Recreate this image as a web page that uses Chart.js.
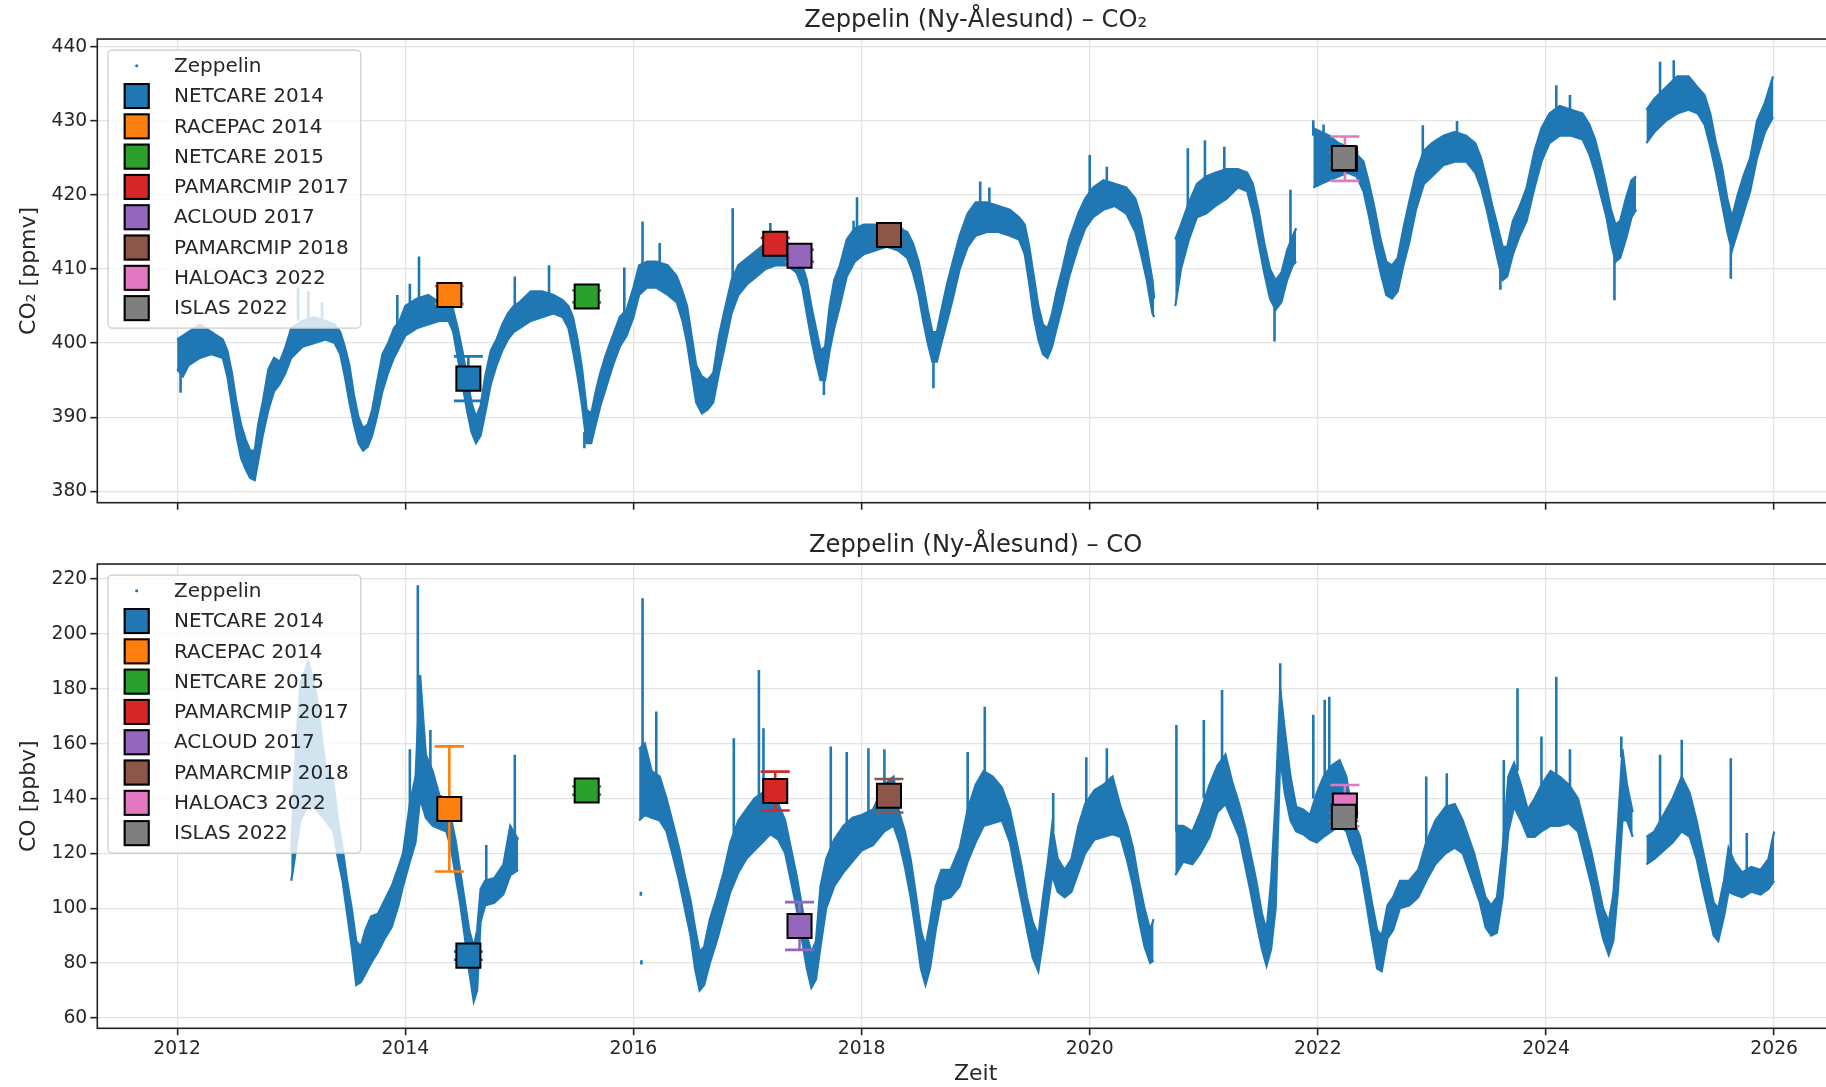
<!DOCTYPE html>
<html>
<head>
<meta charset="utf-8">
<script src="https://cdn.jsdelivr.net/npm/chart.js@4.4.1/dist/chart.umd.min.js"></script>
<style>
  html, body { margin: 0; padding: 0; background: #fff; overflow: hidden; width: 1826px; height: 1087px; }
  #page { position: absolute; left: 0; top: 0; width: 1826px; height: 1087px; overflow: hidden; }
  .box { position: absolute; left: 0; width: 1854px; }
  #co2Box { top: 0; height: 530px; }
  #coBox { top: 525px; height: 562px; }
</style>
</head>
<body>
<div id="page">
<div class="box" id="co2Box"><canvas id="co2Chart" width="1854" height="530"></canvas></div>
<div class="box" id="coBox"><canvas id="coChart" width="1854" height="562"></canvas></div>
</div>
<script>
// ---- data ----
const xTicks = [2012, 2014, 2016, 2018, 2020, 2022, 2024, 2026];
const co2Ticks = [380, 390, 400, 410, 420, 430, 440];
const coTicks = [60, 80, 100, 120, 140, 160, 180, 200, 220];

// Zeppelin CO2 band (lower / upper edge of the point cloud), null = data gap
const co2Time = [
  2012.00, 2012.05, 2012.10, 2012.20, 2012.30, 2012.40, 2012.44, 2012.48, 2012.52, 2012.56, 2012.60, 2012.64, 2012.68, 2012.71, 2012.75, 2012.80, 2012.85, 2012.90, 2012.95,
  2013.00, 2013.10, 2013.20, 2013.30, 2013.38, 2013.43, 2013.47, 2013.51, 2013.55, 2013.59, 2013.63, 2013.67, 2013.71, 2013.75, 2013.80, 2013.85, 2013.90, 2013.95,
  2014.00, 2014.10, 2014.20, 2014.30, 2014.38, 2014.42, 2014.46, 2014.50, 2014.54, 2014.58, 2014.62, 2014.66, 2014.70, 2014.75, 2014.80, 2014.85, 2014.90, 2014.95,
  2015.00, 2015.10, 2015.20, 2015.30, 2015.38, 2015.43, 2015.47, 2015.51, 2015.55, 2015.59, 2015.63, 2015.67, 2015.71, 2015.76, 2015.82, 2015.88, 2015.94,
  2016.00, 2016.05, 2016.12, 2016.20, 2016.30, 2016.38, 2016.43, 2016.47, 2016.51, 2016.55, 2016.60, 2016.65, 2016.70, 2016.75, 2016.80, 2016.86, 2016.92,
  2017.00, 2017.08, 2017.16, 2017.25, 2017.35, 2017.43, 2017.48, 2017.52, 2017.56, 2017.60, 2017.64, 2017.68, 2017.72, 2017.76, 2017.81, 2017.87, 2017.94,
  2018.02, 2018.12, 2018.22, 2018.32, 2018.40, 2018.45, 2018.50, 2018.54, 2018.58, 2018.62, 2018.66, 2018.70, 2018.75, 2018.80, 2018.86, 2018.93,
  2019.00, 2019.10, 2019.20, 2019.30, 2019.38, 2019.43, 2019.47, 2019.51, 2019.55, 2019.59, 2019.63, 2019.67, 2019.71, 2019.76, 2019.82, 2019.90, 2019.96,
  2020.03, 2020.12, 2020.22, 2020.32, 2020.40, 2020.45, 2020.50, 2020.55, 2020.565, 2020.65, 2020.75, 2020.80, 2020.87, 2020.94,
  2021.02, 2021.10, 2021.20, 2021.30, 2021.38, 2021.43, 2021.48, 2021.53, 2021.58, 2021.63, 2021.68, 2021.73, 2021.78, 2021.81, 2021.88,
  2021.96, 2022.03, 2022.10, 2022.18, 2022.26, 2022.34, 2022.40, 2022.45, 2022.50, 2022.55, 2022.60, 2022.65, 2022.70, 2022.75, 2022.80, 2022.86, 2022.93,
  2023.00, 2023.10, 2023.20, 2023.30, 2023.38, 2023.43, 2023.48, 2023.53, 2023.58, 2023.62, 2023.66, 2023.71, 2023.77, 2023.83, 2023.90, 2023.96,
  2024.03, 2024.12, 2024.22, 2024.32, 2024.38, 2024.43, 2024.48, 2024.53, 2024.57, 2024.61, 2024.65, 2024.70, 2024.75, 2024.79, 2024.84,
  2024.88, 2024.95, 2025.05, 2025.15, 2025.25, 2025.33, 2025.39, 2025.44, 2025.49, 2025.54, 2025.59, 2025.63, 2025.68, 2025.73, 2025.79, 2025.85, 2025.92, 2025.99
];
const co2Low = [
  396.5, 395.5, 397.0, 398.0, 398.5, 398.0, 395.5, 391.5, 387.5, 384.5, 383.0, 381.8, 381.5, 384.0, 387.5, 391.0, 393.5, 394.5, 396.0,
  398.0, 399.5, 400.0, 400.5, 400.0, 398.5, 395.5, 392.0, 389.0, 386.5, 385.5, 386.0, 387.5, 390.0, 393.5, 396.0, 398.0, 399.5,
  401.0, 402.0, 402.5, 403.0, 403.0, 401.5, 398.0, 394.5, 391.0, 388.0, 386.5, 387.5, 390.5, 394.5, 397.0, 399.0, 400.5, 401.5,
  402.0, 403.0, 403.5, 404.0, 403.5, 402.0, 399.0, 395.5, 391.5, 386.5, 386.5, 389.0, 391.5, 394.0, 397.0, 399.5, 401.0,
  403.5, 406.5, 407.5, 407.5, 406.5, 405.5, 403.0, 400.0, 396.0, 392.0, 390.5, 391.0, 392.0, 396.0, 399.5, 404.0, 406.5,
  408.0, 409.0, 410.0, 410.5, 410.5, 409.5, 407.5, 404.0, 400.5, 397.5, 395.0, 395.0, 399.0, 402.0, 405.0, 409.0, 411.0,
  412.0, 412.5, 413.0, 412.5, 411.5, 409.5, 406.5, 403.0, 400.0, 397.5, 397.5, 400.0, 403.0, 406.0, 410.0, 413.0,
  414.5, 415.0, 415.0, 414.5, 414.0, 412.0, 408.0, 403.5, 400.5, 398.5, 398.0, 399.5, 402.0, 405.0, 409.0, 413.0, 415.5,
  417.0, 418.0, 418.5, 417.5, 415.0, 412.0, 408.5, 404.0, 403.5, null, 405.0, 410.0, 414.0, 417.0,
  417.5, 418.5, 419.5, 421.0, 420.5, 417.5, 413.5, 409.5, 406.0, 404.5, 405.5, 408.5, 410.5, 411.0, null,
  421.0, 421.5, 422.0, 422.5, 423.0, 422.5, 420.5, 417.0, 413.0, 409.5, 406.5, 406.0, 407.0, 410.5, 413.5, 418.0, 421.5,
  422.5, 424.0, 424.5, 424.5, 423.0, 421.0, 418.0, 414.5, 411.0, 408.5, 409.0, 412.0, 414.5, 416.5, 421.0, 424.5,
  427.0, 428.0, 428.0, 427.5, 425.5, 423.0, 420.0, 417.0, 413.5, 411.0, 411.5, 414.0, 417.0, 418.0, null,
  427.0, 428.5, 430.0, 431.0, 431.5, 431.0, 429.5, 426.5, 423.0, 419.0, 415.0, 412.5, 415.0, 417.5, 420.5, 425.0, 428.5, 430.5
];
const co2High = [
  400.5, 401.0, 401.5, 402.5, 401.5, 400.5, 399.0, 396.0, 392.0, 389.0, 387.0, 385.5, 385.5, 389.0, 392.0, 396.5, 398.0, 397.5, 399.5,
  402.0, 403.0, 403.5, 403.0, 402.5, 401.5, 399.5, 397.0, 393.0, 390.0, 388.5, 389.0, 391.0, 394.5, 398.5, 400.0, 402.0, 403.0,
  405.0, 406.0, 406.5, 405.5, 406.0, 404.5, 402.0, 399.0, 395.5, 392.0, 390.0, 391.5, 395.5, 399.0, 400.5, 402.5, 404.0, 405.0,
  405.5, 407.0, 407.0, 406.5, 405.8, 405.0, 403.5, 400.5, 396.5, 391.0, 390.5, 393.5, 396.0, 398.5, 401.0, 403.5, 404.5,
  407.5, 410.5, 411.0, 411.0, 410.5, 409.0, 407.0, 405.0, 401.0, 397.0, 395.5, 395.0, 396.0, 401.0, 404.5, 408.5, 410.5,
  411.5, 412.5, 413.5, 414.0, 413.5, 412.5, 410.5, 408.5, 405.0, 402.0, 399.0, 399.5, 405.0, 408.5, 410.5, 414.0, 415.5,
  416.0, 416.0, 416.0, 415.5, 415.0, 413.5, 411.0, 408.0, 404.5, 401.5, 401.5, 404.5, 408.0, 411.0, 414.5, 417.5,
  419.0, 419.0, 418.5, 418.0, 417.0, 416.0, 413.0, 409.0, 405.0, 402.5, 402.0, 404.0, 407.0, 410.0, 414.0, 417.5, 419.5,
  421.0, 422.0, 421.5, 421.0, 419.5, 417.0, 413.0, 408.5, 406.0, null, 414.0, 416.0, 419.0, 421.5,
  422.5, 423.0, 423.5, 423.5, 423.0, 421.5, 418.0, 413.5, 410.0, 408.5, 409.5, 412.5, 414.5, 415.5, null,
  429.0, 428.5, 428.0, 427.0, 426.5, 425.5, 424.5, 421.5, 418.0, 414.0, 411.0, 410.5, 411.5, 415.5, 419.0, 423.0, 426.0,
  427.0, 428.0, 428.5, 428.0, 427.0, 425.0, 422.0, 418.5, 415.5, 413.0, 413.0, 416.5, 418.5, 421.0, 426.0, 429.0,
  431.0, 432.0, 431.5, 431.0, 429.5, 427.5, 424.5, 421.0, 418.0, 416.0, 416.5, 419.5, 422.0, 422.5, null,
  431.5, 433.0, 434.5, 436.0, 436.0, 434.5, 433.5, 431.0, 427.0, 424.0, 419.5, 417.0, 420.0, 422.5, 425.0, 430.0, 432.5, 436.0
];
// single spikes sticking out of the CO2 band
const co2SpikeTime = [2012.03, 2013.06, 2013.15, 2013.27, 2013.93, 2014.04, 2014.12, 2014.96, 2015.26, 2015.57, 2015.92, 2016.08, 2016.23, 2016.87, 2017.20, 2017.67, 2017.93, 2017.96, 2018.63, 2019.04, 2019.12, 2020.00, 2020.15, 2020.86, 2021.01, 2021.18, 2021.62, 2021.76, 2021.96, 2022.05, 2022.92, 2023.22, 2023.60, 2024.09, 2024.21, 2024.60, 2025.00, 2025.12, 2025.62];
const co2SpikeFrom = [396.0, 403.0, 403.0, 403.0, 401.0, 404.0, 405.0, 404.0, 406.0, 388.0, 403.0, 410.0, 410.0, 407.0, 413.0, 396.0, 413.0, 413.0, 398.0, 418.0, 418.0, 419.0, 421.0, 418.0, 421.0, 422.0, 405.0, 412.0, 428.0, 428.0, 424.0, 427.0, 410.0, 431.0, 431.0, 412.0, 433.0, 435.0, 413.0];
const co2SpikeTo = [393.3, 407.5, 407.0, 405.5, 406.5, 408.0, 411.7, 409.0, 410.5, 385.8, 410.2, 416.4, 413.5, 418.2, 416.2, 393.0, 416.5, 419.7, 393.9, 421.8, 421.0, 425.4, 423.8, 426.3, 427.4, 426.5, 400.2, 420.7, 430.1, 429.5, 429.4, 430.0, 407.2, 434.8, 433.5, 405.8, 438.0, 438.2, 408.7];

// Zeppelin CO band
const coTime = [
  2013.00, 2013.03, 2013.08, 2013.15, 2013.22, 2013.30, 2013.37, 2013.41, 2013.45, 2013.49, 2013.53, 2013.57, 2013.61, 2013.65, 2013.70, 2013.76, 2013.82, 2013.88, 2013.94, 2013.98,
  2014.04, 2014.09, 2014.13, 2014.18, 2014.24, 2014.30, 2014.36, 2014.40, 2014.44, 2014.48, 2014.52, 2014.56, 2014.60, 2014.63, 2014.66, 2014.70, 2014.78, 2014.86, 2014.92, 2014.99, 2015.50,
  2016.05, 2016.10, 2016.16, 2016.23, 2016.29, 2016.34, 2016.40, 2016.45, 2016.50, 2016.54, 2016.58, 2016.62, 2016.67, 2016.73, 2016.79, 2016.85, 2016.92, 2016.99,
  2017.06, 2017.13, 2017.20, 2017.27, 2017.33, 2017.38, 2017.43, 2017.48, 2017.52, 2017.56, 2017.60, 2017.64, 2017.69, 2017.76, 2017.84, 2017.92,
  2018.00, 2018.10, 2018.20, 2018.28, 2018.33, 2018.38, 2018.43, 2018.48, 2018.52, 2018.56, 2018.60, 2018.65, 2018.70, 2018.78, 2018.86, 2018.93,
  2019.00, 2019.07, 2019.15, 2019.23, 2019.30, 2019.35, 2019.40, 2019.45, 2019.50, 2019.55, 2019.59, 2019.63, 2019.67, 2019.72, 2019.78, 2019.84, 2019.90, 2019.96,
  2020.04, 2020.12, 2020.20, 2020.27, 2020.33, 2020.38, 2020.43, 2020.48, 2020.53, 2020.56, 2020.65, 2020.75, 2020.82, 2020.90, 2020.97,
  2021.05, 2021.12, 2021.19, 2021.25, 2021.31, 2021.36, 2021.41, 2021.46, 2021.51, 2021.55, 2021.59, 2021.63, 2021.67, 2021.71, 2021.76, 2021.81, 2021.87, 2021.93, 2021.99,
  2022.05, 2022.12, 2022.19, 2022.25, 2022.31, 2022.37, 2022.42, 2022.47, 2022.52, 2022.56, 2022.61, 2022.66, 2022.72, 2022.80, 2022.88, 2022.95,
  2023.03, 2023.12, 2023.20, 2023.27, 2023.32, 2023.37, 2023.42, 2023.47, 2023.52, 2023.57, 2023.62, 2023.67, 2023.72, 2023.78, 2023.84, 2023.90, 2023.96,
  2024.04, 2024.12, 2024.20, 2024.28, 2024.34, 2024.40, 2024.45, 2024.50, 2024.55, 2024.59, 2024.63, 2024.67, 2024.71, 2024.76, 2024.83,
  2024.88, 2024.95, 2025.03, 2025.11, 2025.19, 2025.26, 2025.32, 2025.37, 2025.42, 2025.47, 2025.51, 2025.56, 2025.60, 2025.65, 2025.72, 2025.80, 2025.88, 2025.95, 2026.00
];
const coLow = [
  110, 118, 132, 138, 136, 132, 128, 118, 110, 98, 86, 72, 73, 76, 80, 84, 89, 93, 101, 108,
  117, 124, 140, 133, 130, 129, 128, 122, 112, 102, 90, 77, 66, 70, 95, 101, 102, 105, 112, 114, null,
  132, 134, 133, 132, 128, 120, 110, 100, 90, 78, 70, 72, 80, 88, 97, 106, 113, 118,
  121, 124, 127, 125, 120, 110, 100, 88, 78, 71, 74, 86, 100, 108, 113, 117,
  121, 123, 128, 130, 124, 115, 104, 90, 78, 72, 78, 92, 103, 104, 108, 117,
  124, 130, 131, 132, 124, 113, 103, 92, 82, 77, 88, 100, 112, 106, 104, 106, 113, 120,
  125, 126, 127, 126, 117, 108, 96, 86, 80, 81, null, 112, 117, 116, 120,
  126, 135, 138, 132, 126, 116, 106, 95, 85, 79, 85, 100, 155, 142, 132, 128, 127, 125, 124,
  126, 128, 130, 128, 120, 115, 103, 90, 78, 77, 89, 92, 100, 101, 104, 110,
  116, 120, 122, 120, 114, 108, 102, 93, 90, 91, 104, 128, 137, 132, 126, 126, 128,
  130, 130, 131, 128, 118, 108, 98, 89, 83, 88, 106, 132, 132, 126, null,
  116, 118, 121, 124, 128, 126, 118, 108, 99, 90, 88, 97, 106, 105, 104, 106, 105, 107, 110
];
const coHigh = [
  121, 150, 182, 190, 178, 152, 146, 132, 122, 110, 100, 88, 86, 92, 97, 98, 103, 108, 115, 120,
  138, 148, 185, 156, 150, 141, 140, 133, 125, 114, 103, 92, 86, 92, 107, 110, 111, 116, 130, 125, null,
  158, 160, 150, 148, 140, 132, 122, 112, 103, 93, 84, 86, 96, 104, 113, 124, 132, 136,
  140, 142, 145, 138, 132, 122, 112, 100, 90, 84, 88, 108, 118, 125, 130, 133,
  134, 136, 145, 148, 135, 128, 118, 104, 92, 86, 95, 108, 114, 114, 122, 136,
  145, 150, 148, 144, 136, 126, 116, 104, 95, 90, 104, 116, 130, 118, 114, 118, 130, 138,
  143, 145, 148, 137, 130, 122, 110, 100, 92, 96, null, 130, 130, 128, 135,
  145, 152, 156, 146, 138, 130, 120, 110, 98, 92, 110, 140, 180, 165, 148, 137, 136, 134, 142,
  148, 152, 154, 148, 132, 126, 115, 103, 92, 90, 101, 104, 110, 110, 114, 124,
  132, 137, 138, 132, 126, 120, 112, 104, 101, 104, 122, 148, 153, 145, 136, 140, 145,
  150, 148, 145, 140, 130, 120, 110, 100, 95, 105, 130, 158, 145, 135, null,
  126, 128, 134, 140, 148, 142, 132, 122, 112, 102, 100, 110, 122, 117, 113, 115, 114, 118, 128
];
const coSpikeTime = [2014.11, 2014.04, 2014.22, 2014.71, 2014.96, 2016.07, 2016.065, 2016.08, 2016.20, 2016.88, 2017.10, 2017.14, 2017.73, 2017.87, 2018.06, 2018.20, 2018.93, 2019.08, 2019.68, 2019.97, 2020.15, 2020.76, 2021.00, 2021.16, 2021.67, 2021.96, 2022.06, 2022.10, 2022.95, 2023.13, 2023.63, 2023.75, 2023.96, 2024.09, 2024.21, 2024.66, 2025.00, 2025.19, 2025.62, 2025.76];
const coSpikeFrom = [150, 130, 145, 108, 122, 79.5, 104.5, 150, 145, 120, 138, 140, 118, 128, 132, 140, 135, 148, 128, 135, 145, 128, 140, 152, 178, 140, 146, 150, 122, 135, 118, 150, 142, 148, 143, 155, 130, 146, 120, 112];
const coSpikeTo = [217.8, 158, 165, 123, 156, 81, 106, 213, 171.7, 162, 186.9, 165.6, 159, 157, 158.3, 158, 157, 173.5, 142, 155, 158.3, 166.8, 168.6, 179.6, 189.3, 170.5, 176, 177.1, 148, 149.2, 154, 180.2, 162.6, 184.4, 158, 162.6, 156, 161.4, 154.7, 127.4];

// aircraft campaigns (mean and error bar half width)
const campaignNames = ['NETCARE 2014', 'RACEPAC 2014', 'NETCARE 2015', 'PAMARCMIP 2017', 'ACLOUD 2017', 'PAMARCMIP 2018', 'HALOAC3 2022', 'ISLAS 2022'];
const campaignTime = [2014.553, 2014.386, 2015.59, 2017.243, 2017.456, 2018.24, 2022.237, 2022.228];
const campaignCo2 = [395.2, 406.5, 406.3, 413.4, 411.8, 414.6, 424.9, 425.0];
const campaignCo2Err = [3.0, 1.2, 0.8, 0.8, 0.8, 0.8, 3.0, 0.8];
const campaignCo = [82.7, 136.2, 142.9, 142.7, 93.5, 141.0, 137.4, 133.3];
const campaignCoErr = [1.5, 22.8, 1.5, 7.1, 8.7, 6.1, 7.5, 1.5];
const campaignColors = ['#1f77b4', '#ff7f0e', '#2ca02c', '#d62728', '#9467bd', '#8c564b', '#e377c2', '#7f7f7f'];

// ---- drawing ----
const BLUE = '#1f77b4';
const TEXT = '#262626';
const GRID = '#e3e3e3';
const FONT = "'DejaVu Sans', sans-serif";
const FS_TICK = 18.75;
const FS_LABEL = 22;
const FS_LEGEND = 20;
const FS_TITLE = 24.2;

Chart.defaults.font.family = FONT;
Chart.defaults.color = TEXT;

function pts(t, v) {
    return t.map((x, i) => ({ x: x, y: v[i] }));
}

function spikePts(t, from, to) {
    let out = [];
    t.forEach((x, i) => {
        out.push({ x: x, y: from[i] }, { x: x, y: to[i] }, { x: x, y: null });
    });
    return out;
}

function makeDatasets(s) {
    let ds = [
        { data: pts(s.t, s.lo), borderColor: BLUE, borderWidth: 2.2, pointRadius: 0, fill: false, order: 30 },
        { data: pts(s.t, s.hi), borderColor: BLUE, borderWidth: 2.2, pointRadius: 0, fill: '-1', backgroundColor: BLUE, order: 30 },
        { data: spikePts(s.spikeT, s.spikeFrom, s.spikeTo), borderColor: BLUE, borderWidth: 2.6, pointRadius: 0, fill: false, order: 30 }
    ];
    // error bars: vertical line with horizontal caps
    campaignNames.forEach((name, i) => {
        let x = campaignTime[i], y = s.camp[i], e = s.err[i];
        ds.push({
            data: [{ x: x, y: y - e }, { x: x, y: y + e }],
            borderColor: campaignColors[i], borderWidth: 2.6, fill: false,
            pointStyle: 'line', pointRadius: 14.5, pointBorderColor: campaignColors[i], pointBorderWidth: 2.6,
            order: 20
        });
    });
    // markers, later campaigns on top
    campaignNames.forEach((name, i) => {
        ds.push({
            label: name,
            data: [{ x: campaignTime[i], y: s.camp[i] }],
            showLine: false, pointStyle: 'rect', pointRadius: 17,
            pointBackgroundColor: campaignColors[i], pointBorderColor: '#000', pointBorderWidth: 2,
            order: 10 - i
        });
    });
    return ds;
}

const framePlugin = {
    id: 'frame',
    afterDatasetsDraw(chart) {
        const a = chart.chartArea, ctx = chart.ctx;
        ctx.save();
        ctx.strokeStyle = '#222';
        ctx.lineWidth = 1.6;
        ctx.strokeRect(a.left, a.top, a.right - a.left, a.bottom - a.top);
        ctx.restore();
    }
};

const legendPlugin = {
    id: 'boxLegend',
    afterDraw(chart) {
        const a = chart.chartArea, ctx = chart.ctx;
        const left = a.left + 10.7, top = a.top + 11, w = 252.7, h = 278, r = 4;
        ctx.save();
        ctx.beginPath();
        ctx.moveTo(left + r, top);
        ctx.lineTo(left + w - r, top);
        ctx.arcTo(left + w, top, left + w, top + r, r);
        ctx.lineTo(left + w, top + h - r);
        ctx.arcTo(left + w, top + h, left + w - r, top + h, r);
        ctx.lineTo(left + r, top + h);
        ctx.arcTo(left, top + h, left, top + h - r, r);
        ctx.lineTo(left, top + r);
        ctx.arcTo(left, top, left + r, top, r);
        ctx.closePath();
        ctx.fillStyle = 'rgba(255,255,255,0.8)';
        ctx.fill();
        ctx.lineWidth = 1.2;
        ctx.strokeStyle = '#cccccc';
        ctx.stroke();

        const labels = ['Zeppelin'].concat(campaignNames);
        const mx = a.left + 39.4;
        labels.forEach((lab, i) => {
            const cy = top + 15.7 + i * 30.3;
            if (i === 0) {
                ctx.beginPath();
                ctx.arc(mx, cy, 1.6, 0, Math.PI * 2);
                ctx.fillStyle = BLUE;
                ctx.fill();
            } else {
                ctx.fillStyle = campaignColors[i - 1];
                ctx.fillRect(mx - 13, cy - 13, 26, 26);
                ctx.lineWidth = 2;
                ctx.strokeStyle = '#000';
                ctx.strokeRect(mx - 12, cy - 12, 24, 24);
            }
            ctx.fillStyle = TEXT;
            ctx.font = FS_LEGEND + 'px ' + FONT;
            ctx.textBaseline = 'middle';
            ctx.textAlign = 'left';
            ctx.fillText(lab, a.left + 76.7, cy + 1);
        });
        ctx.restore();
    }
};

function makeChart(id, s, o) {
    const gridOpts = { color: GRID, lineWidth: 1.3, tickLength: 7, tickColor: '#222', tickWidth: 1.6 };
    return new Chart(document.getElementById(id), {
        type: 'line',
        data: { datasets: makeDatasets(s) },
        options: {
            responsive: false,
            animation: false,
            events: [],
            layout: { padding: 0, autoPadding: false },
            plugins: {
                legend: { display: false },
                tooltip: { enabled: false },
                title: {
                    display: true, text: o.title, fullSize: false, color: TEXT,
                    font: { size: FS_TITLE, weight: 'normal' }, padding: { top: 6.3, bottom: 3.7 }
                }
            },
            scales: {
                x: {
                    type: 'linear', min: 2011.3, max: 2026.7,
                    afterBuildTicks: sc => { sc.ticks = xTicks.map(v => ({ value: v })); },
                    afterFit: sc => { sc.height = o.xHeight; },
                    ticks: { display: o.showX, font: { size: FS_TICK }, color: TEXT, maxRotation: 0, autoSkip: false, padding: 3, callback: v => String(v) },
                    grid: gridOpts,
                    border: { display: false },
                    title: { display: o.showX, text: 'Zeit', font: { size: FS_LABEL }, color: TEXT, padding: { top: 0, bottom: 0 } }
                },
                y: {
                    type: 'linear', min: o.yMin, max: o.yMax,
                    afterBuildTicks: sc => { sc.ticks = o.yTicks.map(v => ({ value: v })); },
                    afterFit: sc => { sc.width = 97.3; },
                    ticks: { font: { size: FS_TICK }, color: TEXT, padding: 3, callback: v => String(v) },
                    grid: gridOpts,
                    border: { display: false },
                    title: { display: true, text: o.yTitle, font: { size: FS_LABEL }, color: TEXT, padding: { top: 15.8, bottom: 0 } }
                }
            }
        },
        plugins: [framePlugin, legendPlugin]
    });
}

makeChart('co2Chart',
    { t: co2Time, lo: co2Low, hi: co2High, spikeT: co2SpikeTime, spikeFrom: co2SpikeFrom, spikeTo: co2SpikeTo, camp: campaignCo2, err: campaignCo2Err },
    { title: 'Zeppelin (Ny-Ålesund) – CO₂', yTitle: 'CO₂ [ppmv]', yMin: 378.45, yMax: 441.05, yTicks: co2Ticks, showX: false, xHeight: 27.3 });

makeChart('coChart',
    { t: coTime, lo: coLow, hi: coHigh, spikeT: coSpikeTime, spikeFrom: coSpikeFrom, spikeTo: coSpikeTo, camp: campaignCo, err: campaignCoErr },
    { title: 'Zeppelin (Ny-Ålesund) – CO', yTitle: 'CO [ppbv]', yMin: 56.2, yMax: 225.5, yTicks: coTicks, showX: true, xHeight: 58.7 });
</script>
</body>
</html>
